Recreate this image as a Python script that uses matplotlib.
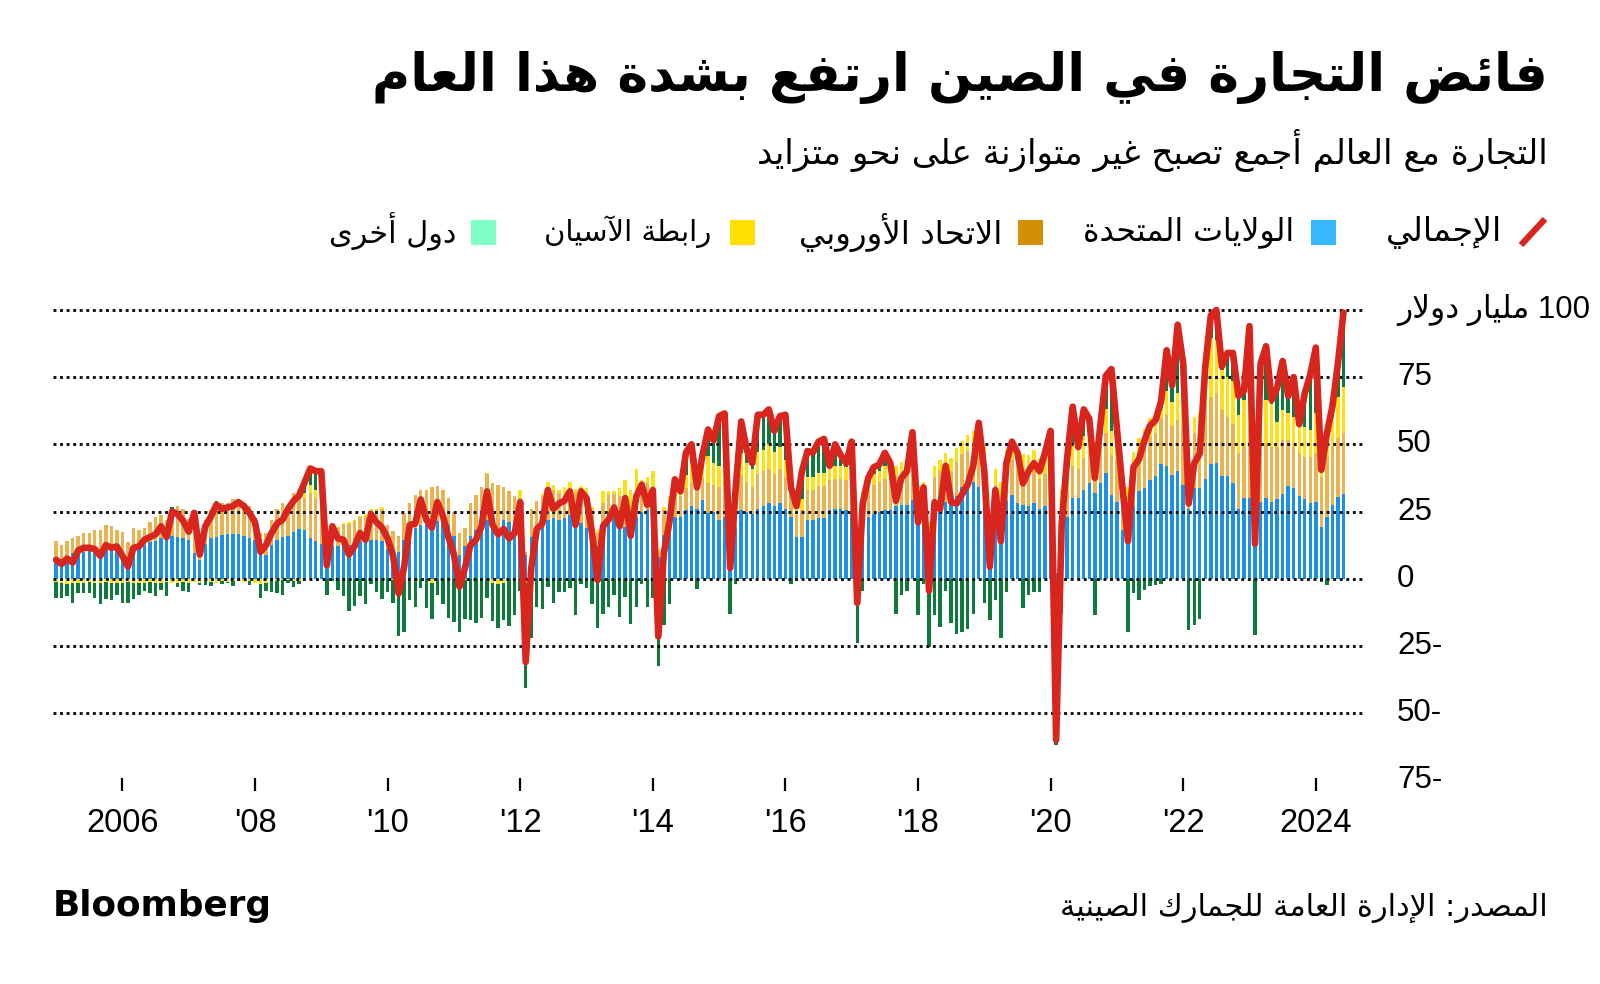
import re
import numpy as np
import matplotlib
matplotlib.use("Agg")
import matplotlib.pyplot as plt
from matplotlib.lines import Line2D
from matplotlib.patches import Rectangle
import matplotlib.transforms as mtransforms

# ---------------------------------------------------------------- data (bn USD, monthly, Jan 2005 - Jun 2024)
start_year = 2005
total = [
    7, 5.5, 7.5, 6, 10.5, 11.5, 11.5, 11, 8.5, 12.5, 11.5, 12,            # 2005
    8.5, 4.5, 11.5, 12, 14.5, 15.5, 16.5, 19.5, 15.5, 25, 24, 21.5,       # 2006
    17.5, 24.5, 9, 19.5, 23, 27.5, 26, 26.5, 27, 28.5, 27, 24.5,          # 2007
    21, 10, 12.5, 17, 20.5, 22, 26, 29, 31, 36, 41, 40,                   # 2008
    40, 5, 19.5, 15, 14.5, 9, 12, 17, 14.5, 24, 21, 19,                   # 2009
    15, 8.5, -5.5, 4.5, 20, 20.5, 29.5, 22, 19, 28.5, 23.5, 15.5,         # 2010
    9, -3, 4, 12.5, 14.5, 19.5, 32.5, 20, 16.5, 18.5, 15, 17,             # 2011
    28.5, -31, 4, 18.5, 20.5, 33, 26, 28, 29, 32.5, 20, 32.5,             # 2012
    30, 17, -0.5, 19.5, 22, 26.5, 19.5, 30, 16, 30.5, 35, 27.5,           # 2013
    33, -21.5, 9.5, 21, 37, 32.5, 47, 50, 34, 46, 55.5, 51.5,             # 2014
    60.5, 61.5, 4, 33.5, 58.5, 48, 43, 61, 61, 63, 55, 60.5,              # 2015
    61, 34, 27, 40, 47.5, 47, 51, 52, 42, 50, 46, 43,                     # 2016
    51, -9, 28, 37.5, 41.5, 42.5, 46.8, 43, 29, 37.5, 40, 54.5,           # 2017
    21, 34, -4.5, 28.5, 26, 42, 28.5, 28, 31.5, 35, 42, 58,               # 2018
    40, 4.5, 33, 14, 43, 51, 47, 35.5, 40, 43, 40, 47,                    # 2019
    55, -60, 20, 45, 64, 49, 63, 59.5, 37.5, 57, 75.5, 78,                # 2020
    56, 34, 14, 41.5, 44.5, 51.5, 57, 59, 66, 85, 72, 94.5,               # 2021
    80, 28, 43, 46.6, 79, 98, 100, 79, 84, 84, 68, 70,                    # 2022
    94, 13, 80, 86.5, 66.5, 71, 81, 68, 75, 57.5, 69, 76,                 # 2023
    86, 40.5, 54, 64, 80, 99,                                             # 2024
]
usa = [
    6, 5, 8, 9.5, 10, 10, 10.7, 9.5, 8.5, 10.7, 10.7, 10.7,
    9.5, 4.5, 11.3, 12, 12.6, 13.8, 14, 15, 15.7, 16, 15.7, 15,
    14.4, 9.5, 7, 13, 15, 15.7, 16.3, 16.7, 16.7, 16.7, 16, 15,
    14.4, 8.8, 9, 12.6, 14.4, 15.7, 16, 17.5, 18.4, 18, 15, 14,
    13, 6, 12, 12, 12.5, 12.5, 13, 14, 14.5, 14.5, 14.5, 14,
    11, 10.7, 10, 14.5, 17, 19, 20, 21, 22, 21.5, 22, 20,
    16, 9, 12, 16, 18, 20, 22, 20.6, 18, 22, 21, 20,
    20.6, 8.8, 15.7, 18.8, 20, 22, 22.5, 22, 22.5, 23.8, 19.4, 20.6,
    18.8, 17.5, 12, 21, 24, 25, 20, 19.4, 18.2, 23, 25, 25.6,
    25, 8, 16.3, 22, 23, 23, 25.6, 27, 26, 29.4, 24.4, 25,
    22, 23, 12, 19.4, 25.6, 25, 24, 26, 27, 28, 27, 28,
    26, 23, 15.7, 15.7, 22, 22, 22.5, 22.5, 25.6, 26, 26, 25.6,
    24.4, 10, 20.6, 23, 24, 25, 25.6, 25.6, 27, 27.5, 27.5, 29.4,
    20.6, 22, 14, 27, 28, 28.7, 28, 30.6, 34.3, 35.6, 36, 34.3,
    31, 12, 25, 22, 29, 31, 28, 27.5, 27, 28, 26, 27,
    25, 2, 20, 23, 30, 30, 33, 35.6, 32, 35.6, 39.3, 31,
    28.7, 18, 21, 27, 32.5, 33.7, 36.8, 38.3, 42.8, 42, 38.7, 40,
    34.8, 26, 33.6, 33.6, 37, 42.7, 43, 38.2, 38.2, 35.7, 25.9, 30.2,
    30.2, 22, 28.6, 29.9, 28.6, 29.5, 31.7, 34.5, 33.6, 30.7, 29.7, 28.2,
    28.6, 19.3, 23, 27.4, 30.5, 31.7,
]
eu = [
    8, 7.5, 6, 5.5, 6, 7, 6.3, 8.5, 9.5, 9.3, 8.8, 7.3,
    8, 9, 7.7, 6, 6.4, 7.2, 9, 8.7, 6.3, 9.6, 11.3, 11,
    8, 11, 4.3, 9, 10.6, 12.3, 11.7, 11.3, 12.9, 12.5, 11.5, 12,
    7.6, 8.2, 8, 9.4, 11.6, 12.3, 11.5, 14.5, 14.6, 12, 17, 16,
    15, 5, 8, 7, 8, 8, 8.5, 9, 9, 11, 11, 12,
    9, 7, 6, 10, 11, 12, 13, 12, 12, 13, 11, 10,
    9, 8, 7, 12, 13, 14, 17, 15, 17, 12, 11.5, 10.6,
    9.4, 1, 10.3, 10.2, 10.6, 12, 10.5, 10, 8.1, 9.2, 12.6, 12.4,
    11.8, 8, 5, 7, 7, 6.7, 10.6, 8.6, 8.8, 7.6, 8, 10,
    8, 2, 9.3, 6, 10, 7.6, 8.1, 8.6, 7, 8.6, 11.2, 10,
    12, 13, 3, 10, 13, 11, 10, 13, 13, 13, 12, 13,
    12, 9, 8, 10, 11, 11, 12, 12, 11, 11, 11, 11,
    11, 3, 9, 10, 11, 11, 11.5, 12, 11, 12, 12, 13,
    10, 10, 5, 11, 12, 13, 12, 13, 12, 12, 13, 14,
    12, 5, 10, 9, 12, 13, 12, 12, 12, 12, 11, 12,
    12, 0, 8, 10, 12, 11, 12, 12, 12, 14, 15, 15,
    16, 10, 9, 14, 14, 15, 16, 16, 17, 19, 18, 19,
    22, 13, 20.5, 19, 27, 25, 26, 24.6, 22, 22, 20.8, 18.8,
    26, 8, 23, 20.5, 20.5, 19.5, 20, 17, 15.5, 16, 15.7, 17,
    18, 18.7, 22.4, 21.8, 21.8, 22.4,
]
asean = [
    -1.2, -1.5, -1.8, -1.5, -1.5, -1.5, -1.2, -1.5, -1.5, -1.2, -1.5, -1.5,
    -1.5, -1.2, -1.5, -1.5, -1.5, -1.2, -1.5, -1.5, -1.2, -1.5, -1.5, -1.2,
    -1.5, -1.2, -1.5, -1, -1.2, -1.5, -1, -1.2, -1, -1, -1.2, -1,
    -1.5, -2, -1.5, -1, -1, -0.5, -0.5, -0.8, -1, 2, 3, 3,
    3, 0, 0.3, 0.3, 0.3, 0.5, 0.5, 0.5, 0.5, 0.5, 0.5, 0.5,
    0, -0.5, -0.5, 0, 0, 0, 0, 0, -1.5, 0, 0, 0,
    0, -1, -0.5, 0, 0, 0, 0.5, -1.5, -2, -1.5, 0, 0,
    3, -1.5, 0, 0, 1, 2, 2, 1, 3.5, 3, 1.5, 1.5,
    3, 1, 1, 4.5, 1.5, 1, 3, 8.8, 6, 10.4, 3.8, 2.4,
    7, 1, 1, 2.6, 2.6, 2.4, 5, 7.4, 5, 7.5, 9.9, 8,
    8, 8, 2, 6, 8, 7, 7, 8, 8, 9, 8, 8,
    6, 4, 3, 4, 5, 5, 5, 5, 5, 5, 5, 5,
    5, 2, 3, 4, 4, 4, 5, 5, 4, 4, 5, 5,
    4, 4, 2, 4, 4, 5, 5, 5, 5, 6, 6, 7,
    6, 3, 6, 5, 7, 7, 7, 7, 7, 8, 8, 8,
    7, 0, 5, 7, 8, 8, 8, 8, 7, 8, 9, 9,
    7, 5, 4, 6, 6, 7, 7, 7, 8, 9, 9, 10,
    12, 8, 6.2, 9, 15, 22, 20, 15, 15, 16, 14.4, 17.4,
    16, 4, 13.7, 16, 16, 9.5, 11, 10, 11, 11, 11, 10,
    15, 3.7, 11, 11, 15.5, 17.4,
]
# "other countries" is the remainder of the total balance
other = (np.array(total) - np.array(usa) - np.array(eu) - np.array(asean)).tolist()

x_tick_years = [2006, 2008, 2010, 2012, 2014, 2016, 2018, 2020, 2022, 2024]
x_tick_labels = ["2006", "'08", "'10", "'12", "'14", "'16", "'18", "'20", "'22", "2024"]
y_ticks = [100, 75, 50, 25, 0, -25, -50, -75]
y_tick_labels = ["100 مليار دولار", "75", "50", "25", "0", "25-", "50-", "75-"]

title = "فائض التجارة في الصين ارتفع بشدة هذا العام"
subtitle = "التجارة مع العالم أجمع تصبح غير متوازنة على نحو متزايد"
legend_labels = ["الإجمالي", "الولايات المتحدة", "الاتحاد الأوروبي", "رابطة الآسيان", "دول أخرى"]
source = "المصدر: الإدارة العامة للجمارك الصينية"

# ---------------------------------------------------------------- minimal Arabic shaping (presentation forms) + RTL order
DUAL = {'ئ': 0xFE89, 'ب': 0xFE8F, 'ت': 0xFE95, 'ث': 0xFE99, 'ج': 0xFE9D, 'ح': 0xFEA1,
        'خ': 0xFEA5, 'س': 0xFEB1, 'ش': 0xFEB5, 'ص': 0xFEB9, 'ض': 0xFEBD, 'ط': 0xFEC1,
        'ظ': 0xFEC5, 'ع': 0xFEC9, 'غ': 0xFECD, 'ف': 0xFED1, 'ق': 0xFED5, 'ك': 0xFED9,
        'ل': 0xFEDD, 'م': 0xFEE1, 'ن': 0xFEE5, 'ه': 0xFEE9, 'ي': 0xFEF1}
RIGHT = {'آ': 0xFE81, 'أ': 0xFE83, 'ؤ': 0xFE85, 'إ': 0xFE87, 'ا': 0xFE8D, 'ة': 0xFE93,
         'د': 0xFEA9, 'ذ': 0xFEAB, 'ر': 0xFEAD, 'ز': 0xFEAF, 'و': 0xFEED, 'ى': 0xFEEF}
NONJ = {'ء': 0xFE80}
LAMALEF = {'آ': 0xFEF5, 'أ': 0xFEF7, 'إ': 0xFEF9, 'ا': 0xFEFB}


def shape(s):
    toks = []
    i = 0
    while i < len(s):
        c = s[i]
        if c == 'ل' and i + 1 < len(s) and s[i + 1] in LAMALEF:
            toks.append(('LA', s[i + 1]))
            i += 2
        else:
            toks.append(('C', c))
            i += 1

    def jn(t):
        return t[0] == 'C' and t[1] in DUAL

    def jp(t):
        return t[0] == 'LA' or t[1] in DUAL or t[1] in RIGHT

    out = []
    for k, t in enumerate(toks):
        prv = toks[k - 1] if k > 0 else None
        nxt = toks[k + 1] if k + 1 < len(toks) else None
        p = prv is not None and jn(prv) and jp(t)
        n = nxt is not None and jn(t) and jp(nxt)
        kind, c = t
        if kind == 'LA':
            out.append(chr(LAMALEF[c] + (1 if p else 0)))
        elif c in DUAL:
            out.append(chr(DUAL[c] + (3 if (p and n) else 1 if p else 2 if n else 0)))
        elif c in RIGHT:
            out.append(chr(RIGHT[c] + (1 if p else 0)))
        elif c in NONJ:
            out.append(chr(NONJ[c]))
        else:
            out.append(c)
    return ''.join(out)


def ar(s):
    rev = shape(s)[::-1]
    return re.sub(r'[0-9A-Za-z.,]+', lambda m: m.group(0)[::-1], rev)


# ---------------------------------------------------------------- figure
W, H = 1600, 984
fig = plt.figure(figsize=(W / 100, H / 100), dpi=100)
fig.patch.set_facecolor('white')
renderer = fig.canvas.get_renderer()

AX_L, AX_R, AX_T, AX_B = 53, 1365, 295, 795
ax = fig.add_axes([AX_L / W, 1 - AX_B / H, (AX_R - AX_L) / W, (AX_B - AX_T) / H])
ax.set_facecolor('none')
for sp in ax.spines.values():
    sp.set_visible(False)
ax.set_xticks([])
ax.set_yticks([])

n = len(total)
xs = np.arange(n)
PX_PER_MONTH = 5.525
X0 = 56.1
ax.set_xlim((AX_L - X0) / PX_PER_MONTH, (AX_R - X0) / PX_PER_MONTH)
ZERO_PX, PX_PER_UNIT = 578.7, 2.687
ax.set_ylim((ZERO_PX - AX_B) / PX_PER_UNIT, (ZERO_PX - AX_T) / PX_PER_UNIT)

bar_colors = ['#1c8fe6', '#e9b44f', '#ffe014', '#0e7b3d']
series = [np.array(usa, float), np.array(eu, float), np.array(asean, float), np.array(other, float)]
pos_base = np.zeros(n)
neg_base = np.zeros(n)
for vals, col in zip(series, bar_colors):
    pos = np.where(vals > 0, vals, 0)
    neg = np.where(vals < 0, vals, 0)
    ax.bar(xs, pos, bottom=pos_base, width=0.62, color=col, linewidth=0, zorder=1)
    ax.bar(xs, neg, bottom=neg_base, width=0.62, color=col, linewidth=0, zorder=1)
    pos_base += pos
    neg_base += neg

for v in [100, 75, 50, 25, 0, -25, -50]:
    ax.axhline(v, color='#111111', lw=2.1, linestyle=(0, (1.0, 1.25)),
               dash_capstyle='butt', zorder=2)

ax.plot(xs, total, color='#d8261e', lw=4.8, solid_joinstyle='round',
        solid_capstyle='round', zorder=3)

# x ticks
tick_pos = [(y - start_year) * 12 for y in x_tick_years]
ax.vlines(tick_pos, (ZERO_PX - 791) / PX_PER_UNIT, (ZERO_PX - 778) / PX_PER_UNIT,
          color='black', lw=1.6, zorder=2, clip_on=False)
for tp, lab in zip(tick_pos, x_tick_labels):
    ax.text(tp, (ZERO_PX - 824) / PX_PER_UNIT, lab, ha='center', va='center',
            fontsize=23.5, family='Liberation Sans', color='black', clip_on=False)

# y labels
blend = mtransforms.blended_transform_factory(ax.transAxes, ax.transData)
xlab = (1397 - AX_L) / (AX_R - AX_L)
for v, lab in zip(y_ticks, y_tick_labels):
    txt = ar(lab) if any('\u0600' <= ch <= '\u06ff' for ch in lab) else lab
    ax.text(xlab, v, txt, transform=blend, ha='left', va='center', fontsize=22.5,
            family=['Liberation Sans', 'DejaVu Sans'], color='black', clip_on=False)


def fit_text(s, x_right, y_center, width, weight='normal', family='DejaVu Sans', ha='right'):
    t = fig.text(x_right / W, 1 - y_center / H, s, ha=ha, va='center', fontsize=20,
                 fontweight=weight, family=family, color='black')
    bb = t.get_window_extent(renderer)
    t.set_fontsize(20 * width / bb.width)
    return t


fit_text(ar(title), 1548, 77, 1174, weight='bold')
fit_text(ar(subtitle), 1548, 150, 793)

# legend
leg_y = 232
leg_text = [(1502, 116), (1294, 212), (1002, 203), (711, 167), (456, 127)]
for lab, (xr, wd) in zip(legend_labels, leg_text):
    fit_text(ar(lab), xr, leg_y, wd)
sq = [(1311, '#35b8ff'), (1018, '#d48f05'), (730, '#ffe000'), (471, '#80ffc6')]
for x0, col in sq:
    fig.patches.append(Rectangle((x0 / W, 1 - (leg_y + 12.5) / H), 25 / W, 25 / H,
                                 transform=fig.transFigure, facecolor=col, edgecolor='none'))
fig.lines.append(Line2D([1521 / W, 1545 / W], [1 - 245 / H, 1 - 219 / H],
                        transform=fig.transFigure, color='#d8261e', lw=4.5,
                        solid_capstyle='butt'))

# footer
fit_text(ar(source), 1548, 908, 487)
fit_text("Bloomberg", 53, 906, 219, weight='bold', ha='left')

fig.savefig('out.png', dpi=100, facecolor='white')
